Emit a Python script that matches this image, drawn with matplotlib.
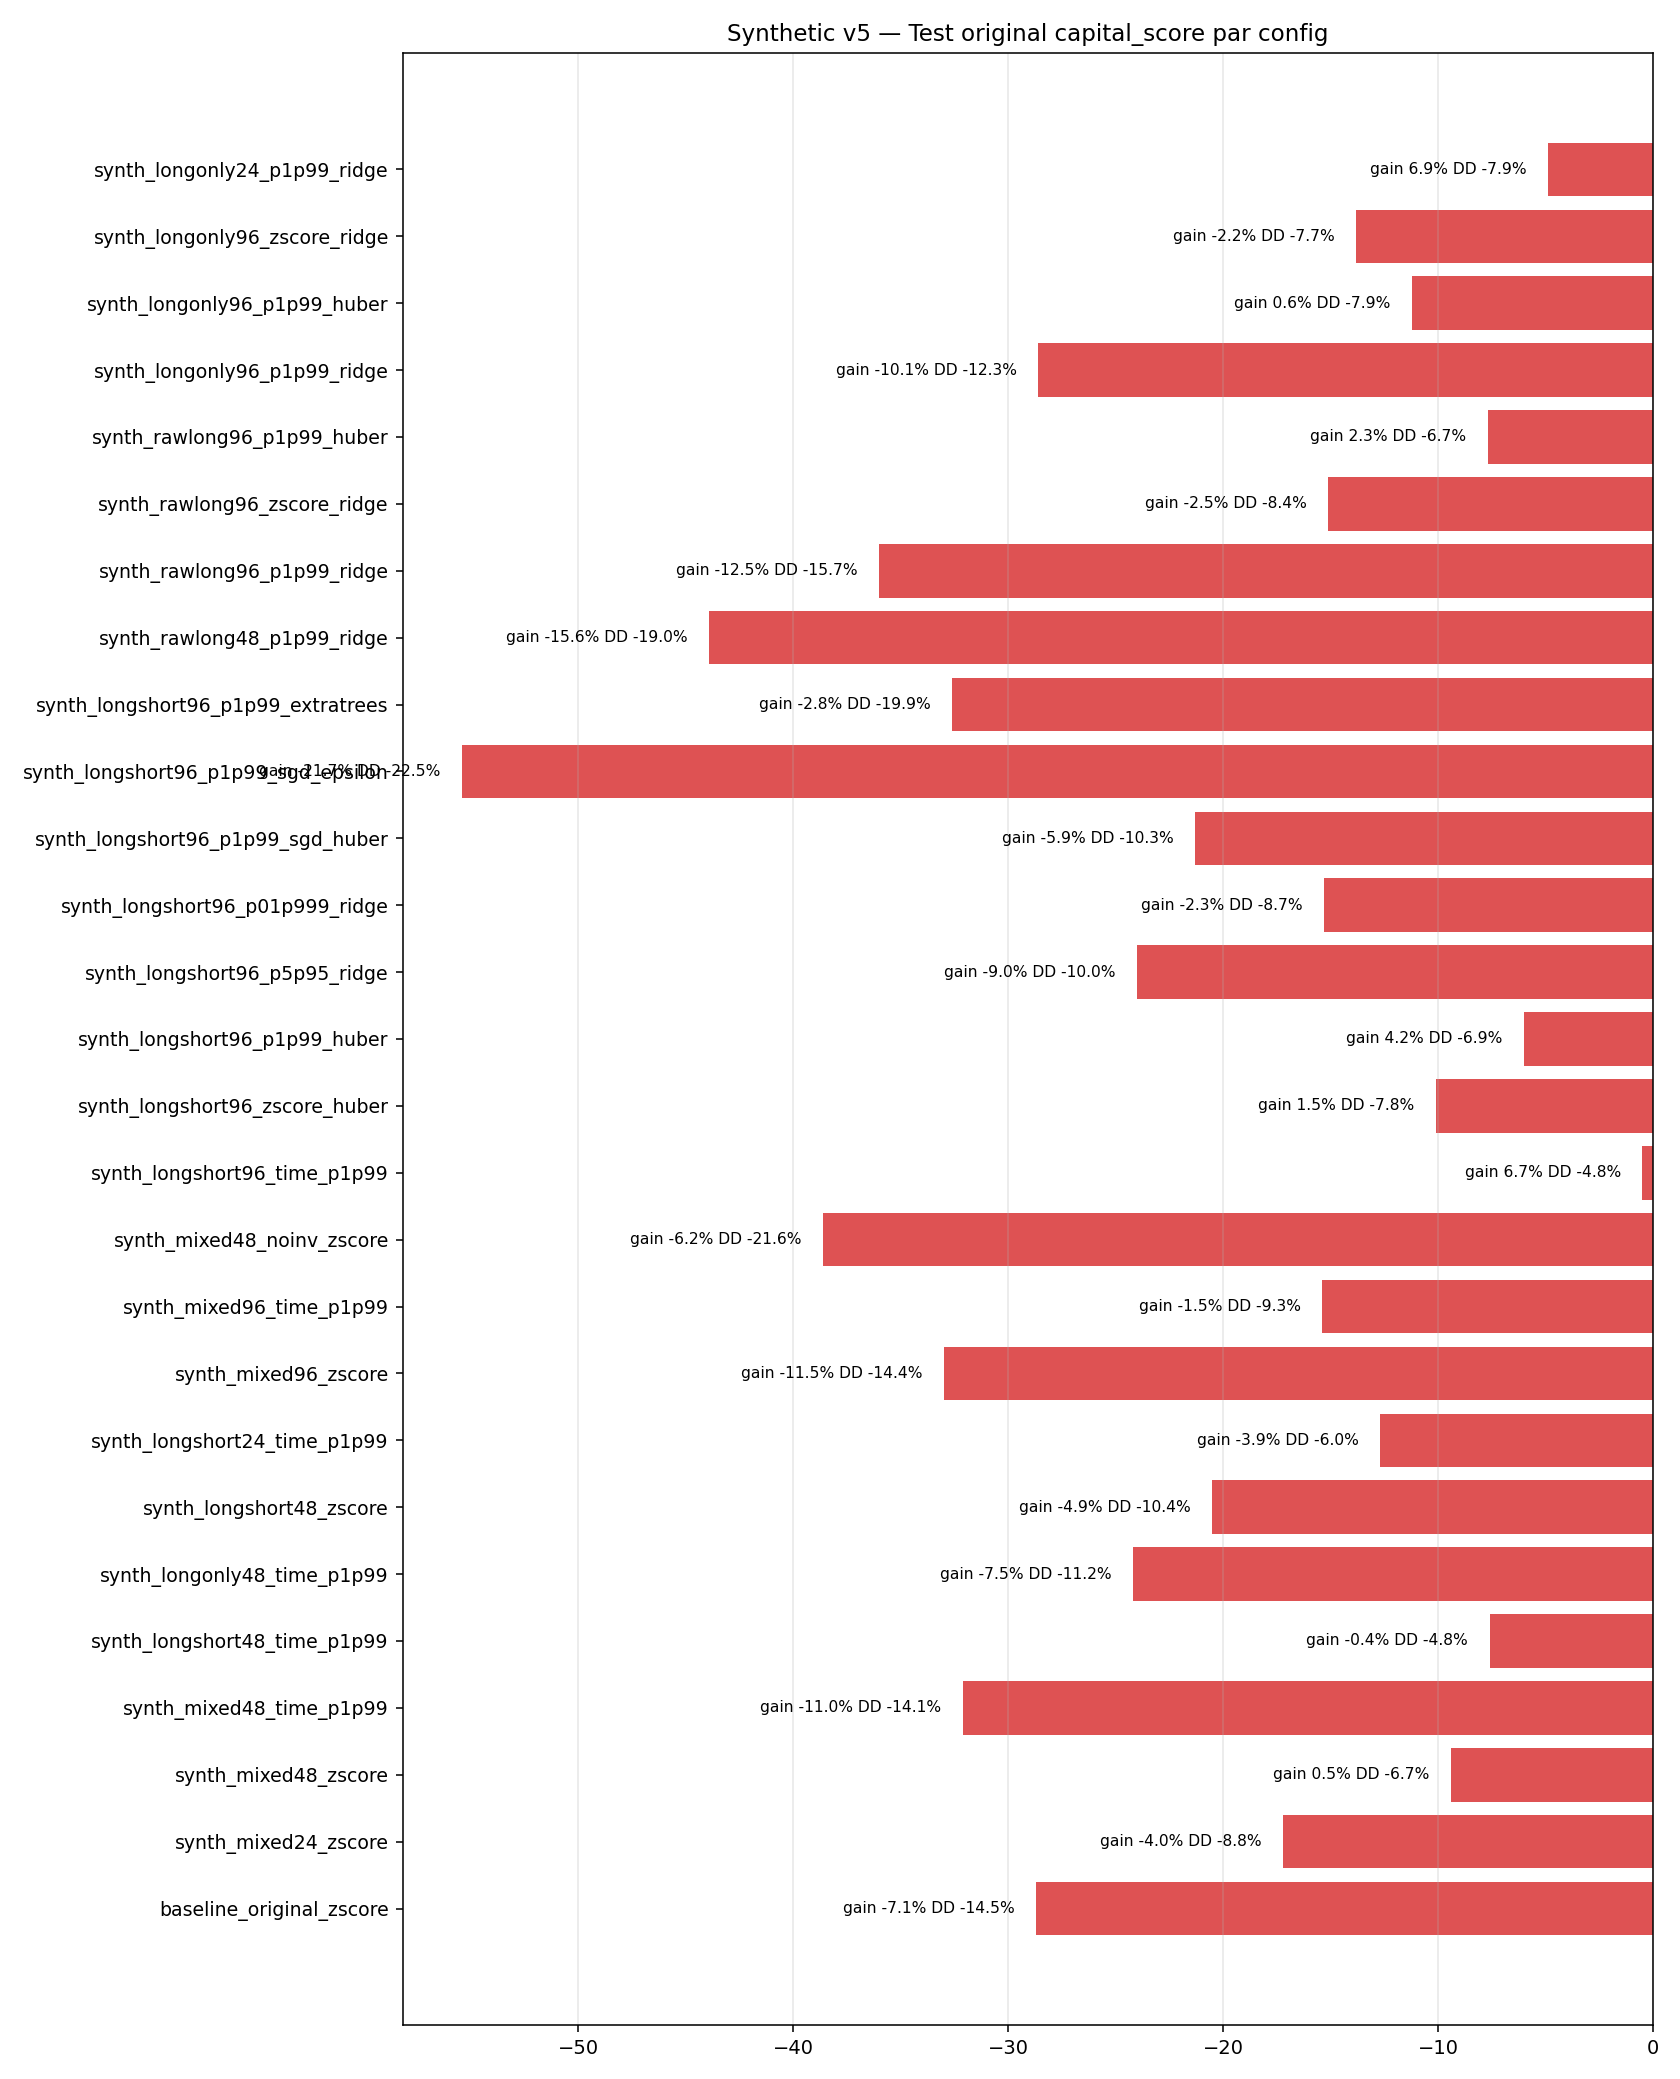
import matplotlib
matplotlib.use("Agg")
import matplotlib.pyplot as plt
import numpy as np

configs = [
    "synth_longonly24_p1p99_ridge",
    "synth_longonly96_zscore_ridge",
    "synth_longonly96_p1p99_huber",
    "synth_longonly96_p1p99_ridge",
    "synth_rawlong96_p1p99_huber",
    "synth_rawlong96_zscore_ridge",
    "synth_rawlong96_p1p99_ridge",
    "synth_rawlong48_p1p99_ridge",
    "synth_longshort96_p1p99_extratrees",
    "synth_longshort96_p1p99_sgd_epsilon",
    "synth_longshort96_p1p99_sgd_huber",
    "synth_longshort96_p01p999_ridge",
    "synth_longshort96_p5p95_ridge",
    "synth_longshort96_p1p99_huber",
    "synth_longshort96_zscore_huber",
    "synth_longshort96_time_p1p99",
    "synth_mixed48_noinv_zscore",
    "synth_mixed96_time_p1p99",
    "synth_mixed96_zscore",
    "synth_longshort24_time_p1p99",
    "synth_longshort48_zscore",
    "synth_longonly48_time_p1p99",
    "synth_longshort48_time_p1p99",
    "synth_mixed48_time_p1p99",
    "synth_mixed48_zscore",
    "synth_mixed24_zscore",
    "baseline_original_zscore",
]

capital_score = [
    -4.9, -13.8, -11.2, -28.6, -7.7, -15.1, -36.0, -43.9, -32.6, -55.4,
    -21.3, -15.3, -24.0, -6.0, -10.1, -0.5, -38.6, -15.4, -33.0, -12.7,
    -20.5, -24.2, -7.6, -32.1, -9.4, -17.2, -28.7,
]

gain_pct = [
    6.9, -2.2, 0.6, -10.1, 2.3, -2.5, -12.5, -15.6, -2.8, -21.7,
    -5.9, -2.3, -9.0, 4.2, 1.5, 6.7, -6.2, -1.5, -11.5, -3.9,
    -4.9, -7.5, -0.4, -11.0, 0.5, -4.0, -7.1,
]

dd_pct = [
    -7.9, -7.7, -7.9, -12.3, -6.7, -8.4, -15.7, -19.0, -19.9, -22.5,
    -10.3, -8.7, -10.0, -6.9, -7.8, -4.8, -21.6, -9.3, -14.4, -6.0,
    -10.4, -11.2, -4.8, -14.1, -6.7, -8.8, -14.5,
]

fig, ax = plt.subplots(figsize=(12, 14.85), dpi=140)
y = np.arange(len(configs))
ax.barh(y, capital_score, color="#d62728", alpha=0.8)
ax.set_yticks(y)
ax.set_yticklabels(configs, fontsize=9.7)
ax.invert_yaxis()
for yi, v, g, d in zip(y, capital_score, gain_pct, dd_pct):
    ax.text(v - 1, yi, f"gain {g:.1f}% DD {d:.1f}%", ha="right", va="center", fontsize=8)
ax.set_xlim(right=0)
ax.grid(axis="x", alpha=0.3)
ax.set_title("Synthetic v5 — Test original capital_score par config", fontsize=11.8)
fig.subplots_adjust(left=0.2396, right=0.984, top=0.9745, bottom=0.026)
fig.savefig("out.png", dpi=140)
